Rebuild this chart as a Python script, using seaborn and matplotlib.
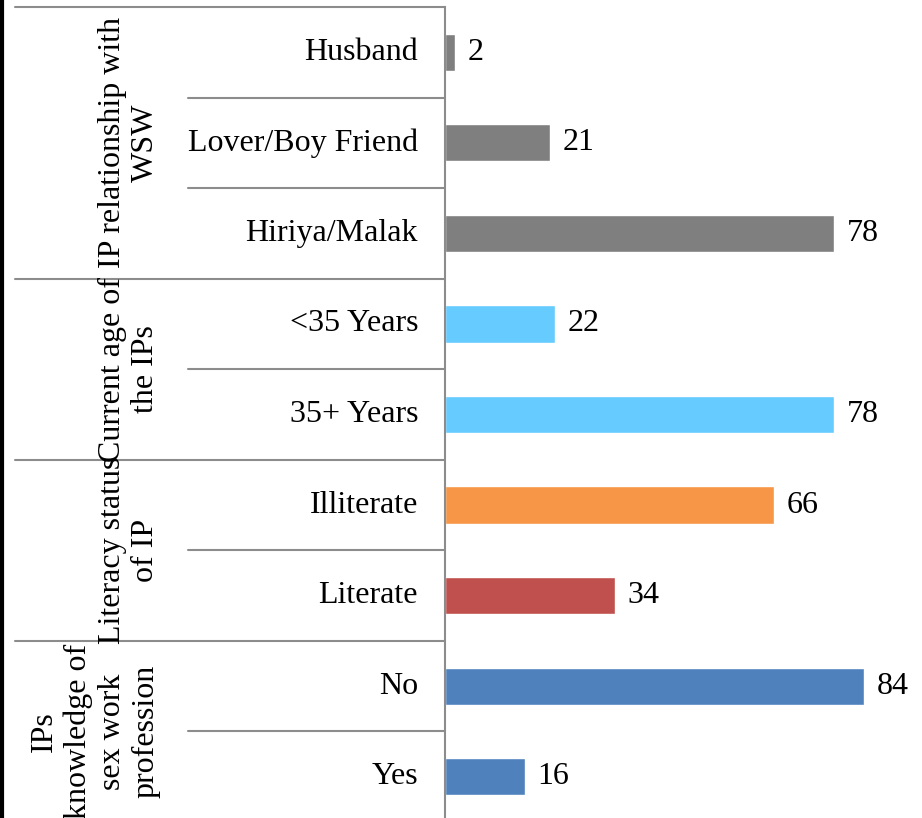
import matplotlib
matplotlib.use("Agg")
import matplotlib.pyplot as plt
import matplotlib.transforms as mtransforms
from matplotlib.lines import Line2D
import pandas as pd
import seaborn as sns

# category labels, top to bottom
categories = ["Husband", "Lover/Boy Friend", "Hiriya/Malak",
              "<35 Years", "35+ Years",
              "Illiterate", "Literate",
              "No", "Yes"]
values = [2, 21, 78, 22, 78, 66, 34, 84, 16]
bar_colors = ["#7f7f7f", "#7f7f7f", "#7f7f7f",
              "#66ccff", "#66ccff",
              "#f79646", "#c0504d",
              "#4f81bd", "#4f81bd"]

groups = ["IP relationship with\nWSW", "Current age of\nthe IPs",
          "Literacy status\nof IP", "IPs\nknowledge of\nsex work\nprofession"]
group_sizes = [3, 2, 2, 2]

sns.set_style("white")
plt.rcParams["font.family"] = ["Liberation Serif", "DejaVu Serif"]
plt.rcParams["text.color"] = "black"
FS = 23
LINE_COL = "#8c8c8c"

df = pd.DataFrame({"category": categories, "value": values})

fig = plt.figure(figsize=(9.22, 8.18), dpi=100)
W, H = 922, 818
ax = fig.add_axes([445 / W, -4 / H, 477 / W, 815 / H])

sns.barplot(data=df, x="value", y="category", hue="category",
            palette=bar_colors, orient="h", width=0.41,
            legend=False, ax=ax, saturation=1)

ax.set_xlim(0, 95.6)
ax.set_ylim(len(categories) - 0.5, -0.5)
ax.set_xlabel("")
ax.set_ylabel("")
ax.set_xticks([])
ax.set_yticks([])
for side in ["top", "right", "bottom"]:
    ax.spines[side].set_visible(False)
ax.spines["left"].set_color(LINE_COL)
ax.spines["left"].set_linewidth(1.5)

for c in ax.containers:
    ax.bar_label(c, padding=9, fontsize=FS, color="black")

trans = mtransforms.blended_transform_factory(ax.transAxes, ax.transData)


def px(x):
    return (x - 445) / 477


# item labels
for i, cat in enumerate(categories):
    ax.text(px(418), i, cat, transform=trans, ha="right", va="center",
            fontsize=FS, color="black")

# separator lines and group labels
start = 0
ax.plot([px(15), 0], [-0.5, -0.5], transform=trans, color=LINE_COL,
        lw=1.5, clip_on=False)
for g, n in zip(groups, group_sizes):
    for k in range(1, n):
        y = start + k - 0.5
        ax.plot([px(188), 0], [y, y], transform=trans, color=LINE_COL,
                lw=1.5, clip_on=False)
    yb = start + n - 0.5
    ax.plot([px(15), 0], [yb, yb], transform=trans, color=LINE_COL,
            lw=1.5, clip_on=False)
    ax.text(px(160), start + (n - 1) / 2, g, transform=trans, rotation=90,
            ha="right", va="center", multialignment="center",
            fontsize=FS, linespacing=1.2, color="black")
    start += n

# dark border on the left edge
fig.add_artist(Line2D([0.002, 0.002], [0, 1], color="black", lw=3,
                      transform=fig.transFigure))

fig.savefig("out.png", dpi=100)
